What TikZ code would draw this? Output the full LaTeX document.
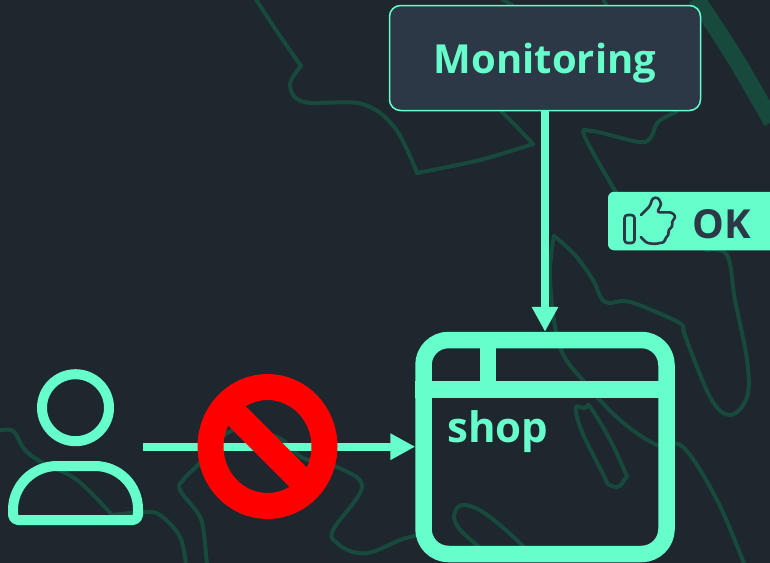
\documentclass[tikz,border=0pt]{standalone}
\usepackage{fontspec}
\usepackage{tikz}
\usetikzlibrary{arrows.meta, shapes.geometric}
\setmainfont{Open Sans}
\definecolor{pagedark}{HTML}{1E262E}
\definecolor{boxdark}{HTML}{2D3846}
\definecolor{mint}{HTML}{66FFCC}
\definecolor{contourgreen}{HTML}{174A3C}
\begin{document}
\begin{tikzpicture}[x=1pt, y=-1pt, >={Triangle[length=25pt, width=25pt]},
    bgline/.style={contourgreen, line width=4pt, line cap=round, line join=round},
    mintline/.style={mint, line width=8pt},
    iconline/.style={boxdark, line width=2.6pt, line join=round, line cap=round}]
  \useasboundingbox (0,0) rectangle (770,562);
  \fill[pagedark] (-6,-6) rectangle (776,568);
  % Background contours
  \draw[bgline] plot[smooth, tension=.5] coordinates {(255,-2) (278,33) (301,66)};
  \draw[bgline] plot[smooth, tension=.6] coordinates {(301,66) (290,85) (304,102) (362,104) (395,128) (417,173)};
  \draw[bgline] plot[smooth, tension=.5] coordinates {(417,173) (480,160) (533,144)};
  \draw[bgline] plot[smooth, tension=.5] coordinates {(533,144) (515,125) (502,112)};
  \draw[bgline] (500,-2) -- (512,5);
  \draw[bgline] (603,-2) -- (606,5);
  \draw[bgline] plot[smooth, tension=.6] coordinates {(676,112) (658,122) (651,137) (639,142) (592,131) (585,137) (617,194)};
  \draw[bgline] plot[smooth, tension=.6] coordinates {(706,250) (727,255) (735,300) (747,360) (747,397) (730,415) (710,397) (683,330)};
  \draw[bgline] plot[smooth, tension=.6] coordinates {(683,330) (678,322) (630,302) (605,302) (593,280) (575,255) (554,236)};
  \draw[bgline] plot[smooth, tension=.6] coordinates {(554,236) (550,280) (560,347) (587,385) (620,420) (657,445) (683,447) (717,500) (745,566)};
  \draw[bgline] plot[smooth cycle, tension=1] coordinates {(577,417) (585,408) (595,414) (622,465) (624,480) (612,486) (601,470)};
  \draw[bgline] plot[smooth, tension=.7] coordinates {(478,546) (458,527) (455,512) (466,505) (490,517) (523,546)};
  \draw[bgline] plot[smooth, tension=.6] coordinates {(-2,431) (13,431) (25,450) (43,463) (77,480) (112,515)};
  \draw[bgline] plot[smooth, tension=.6] coordinates {(113,515) (143,512) (160,515) (180,537) (186,566)};
  \draw[bgline] plot[smooth, tension=.6] coordinates {(207,566) (203,527) (197,512) (180,490) (183,480) (200,463) (233,430) (277,437) (303,458) (337,467) (362,487) (333,530) (337,543) (353,552) (372,552) (400,540) (415,536)};
  \draw[contourgreen, line width=17pt] plot[smooth, tension=.5] coordinates {(696,-2) (735,58) (772,122)};
  % Monitoring box
  \node[draw=mint, fill=boxdark, line width=1.5pt, rounded corners=11pt, inner sep=0pt,
    minimum width=311pt, minimum height=105pt, text=mint, text height=30pt, text depth=0pt,
    font=\bfseries\fontsize{40}{40}\selectfont]
    (MON) at (545,58) {Monitoring};
  % Shop window
  \node[draw=mint, line width=16.5pt, rounded corners=25pt, inner sep=0pt,
    minimum width=243pt, minimum height=214pt] (SHOP) at (545,447) {};
  \coordinate (TOPLEFT) at (SHOP.west |- 0,389.5);
  \coordinate (TOPRIGHT) at (SHOP.east |- 0,389.5);
  \draw[mint, line width=16.5pt] (TOPLEFT) -- (TOPRIGHT);
  \draw[mint, line width=16.5pt] (488,340) -- (488,389.5);
  \node[anchor=base west, inner sep=0pt, text=mint, font=\bfseries\fontsize{42}{42}\selectfont]
    (SHOPTXT) at (447,442) {shop};
  % Monitoring arrow
  \draw[->, mintline] (MON.south) -- (SHOP.north);
  % Person
  \node[circle, draw=mint, line width=10pt, inner sep=0pt, minimum size=67pt] (HEAD) at (75.5,407.7) {};
  \draw[mint, line width=10pt, line join=round]
    (13,510) arc[start angle=180, end angle=90, radius=44pt] -- (95,466)
    arc[start angle=90, end angle=0, radius=43pt] -- (138,515)
    arc[start angle=0, end angle=-90, radius=5pt] -- (18,520)
    arc[start angle=-90, end angle=-180, radius=5pt] -- cycle;
  % Blocked access
  \coordinate (USEREND) at (143,446.7);
  \draw[->, mintline] (USEREND) -- (USEREND -| SHOP.west);
  \node[ellipse, draw=red, line width=26pt, inner sep=0pt, outer sep=0pt,
    minimum width=114pt, minimum height=119pt] (BAN) at (267.5,446.5) {};
  \draw[red, line width=26pt] (BAN.135) -- (BAN.-45);
  % OK badge
  \node[fill=mint, rounded corners=6pt, inner sep=0pt, minimum width=180pt, minimum height=58.5pt]
    (BADGE) at (698,221) {};
  \node[anchor=base west, inner sep=0pt, text=boxdark, font=\bfseries\fontsize{40}{40}\selectfont]
    (OKTXT) at (692,238) {OK};
  \draw[iconline, rounded corners=3pt] (624.5,215) rectangle (634.5,243);
  \draw[iconline, rounded corners=2.5pt] (641,215) -- (650,206) -- (652.5,198) -- (658,197.5) -- (661.5,204)
    -- (657,212.3) -- (671.7,212.3) -- (676,216.7) -- (671.7,221.7) -- (672.7,226.7) -- (668,230)
    -- (669,235) -- (665,238) -- (665,242) -- (655,244) -- (646.7,243) -- (640.7,237);
\end{tikzpicture}
\end{document}
